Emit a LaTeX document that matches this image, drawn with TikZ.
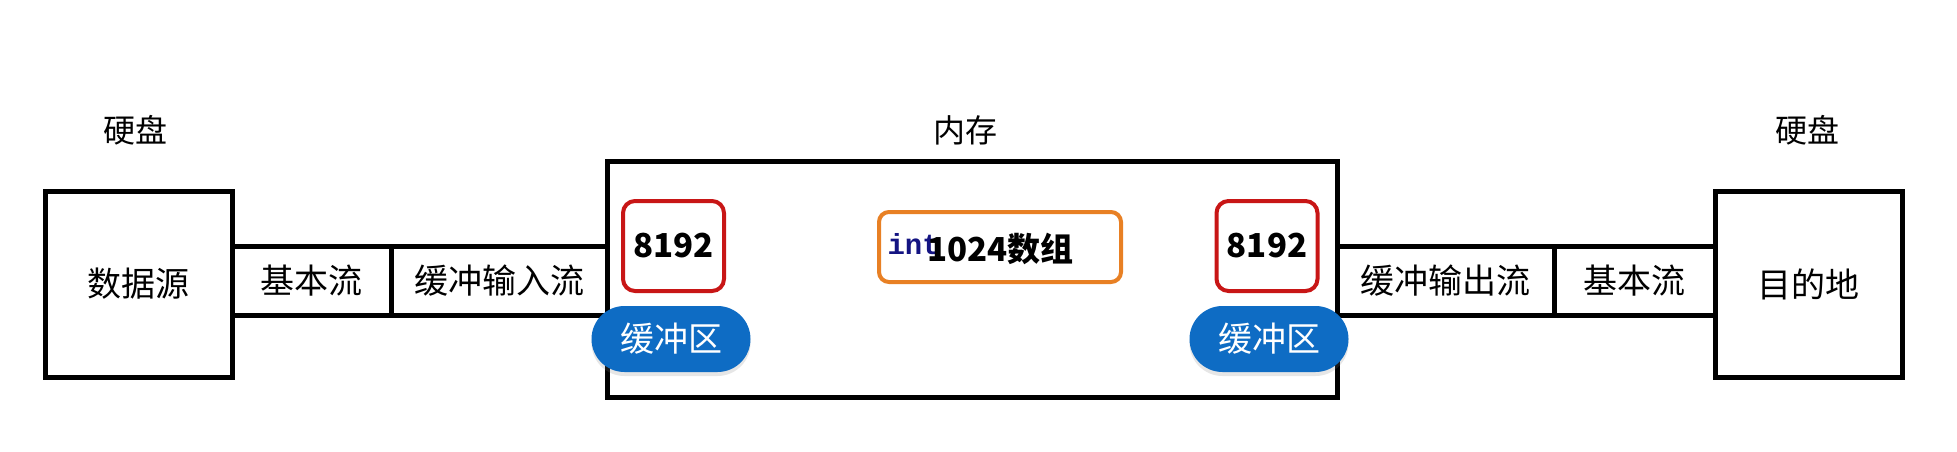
\documentclass[tikz,border=0pt]{standalone}
\usepackage{fontspec}
\setmainfont{Noto Sans CJK SC}
\newfontfamily\codefont{Liberation Mono}
\usepackage{tikz}
\usetikzlibrary{positioning,shadows}

\definecolor{bufred}{RGB}{200,22,22}
\definecolor{arrorange}{RGB}{232,128,36}
\definecolor{pillblue}{RGB}{14,108,196}
\definecolor{kwnavy}{RGB}{20,20,130}

\tikzset{
  box/.style={draw,line width=5pt,inner sep=0pt,font=\fontsize{34}{34}\selectfont},
  cell/.style={box,minimum height=69pt},
  buf/.style={draw=bufred,line width=4pt,rounded corners=12pt,minimum width=101pt,
    minimum height=90pt,inner sep=0pt,font=\fontsize{33}{33}\selectfont\bfseries},
  pill/.style={fill=pillblue,text=white,rounded corners=33pt,minimum width=159pt,
    minimum height=66pt,inner sep=0pt,font=\fontsize{34}{34}\selectfont,
    drop shadow={opacity=0.2,shadow xshift=0pt,shadow yshift=-4pt}},
  tag/.style={font=\fontsize{32}{32}\selectfont}
}

\begin{document}
\begin{tikzpicture}[x=1pt,y=-1pt]
  \useasboundingbox (0,0) rectangle (1957,452);

  % hard disks at both ends
  \node[box,minimum width=187pt,minimum height=186pt] (src) at (138.5,284) {数据源};
  \node[box,minimum width=187pt,minimum height=186pt] (dst) at (1808.5,284) {目的地};
  \node[tag] (disk1) at (135,130) {硬盘};
  \node[tag] (disk2) at (1807,130) {硬盘};

  % streams
  \node[cell,minimum width=159pt] (basein) at (311.5,280.5) {基本流};
  \node[cell,minimum width=216pt] (bufin) at (499,280.5) {缓冲输入流};
  \node[cell,minimum width=217pt] (bufout) at (1445.5,280.5) {缓冲输出流};
  \node[cell,minimum width=161pt] (baseout) at (1634.5,280.5) {基本流};

  % memory
  \node[box,minimum width=730pt,minimum height=236pt] (mem) at (972,279) {};
  \node[tag] (memlbl) at (965,130) {内存};
  \node[buf] (bufL) at (673.5,246) {8192};
  \node[buf] (bufR) at (1267,246) {8192};
  \node[draw=arrorange,line width=4pt,rounded corners=10pt,minimum width=242pt,
    minimum height=70pt,inner sep=0pt] (arr) at (1000,247) {};
  \node[anchor=west,text=kwnavy,font=\fontsize{29}{29}\codefont\bfseries] (kw) at (884,244) {int};
  \node[anchor=west,font=\fontsize{33}{33}\selectfont\bfseries] (arrlbl) at (924,249) {1024数组};
  \node[pill] (pillL) at (671,339) {缓冲区};
  \node[pill] (pillR) at (1269,339) {缓冲区};
\end{tikzpicture}
\end{document}
